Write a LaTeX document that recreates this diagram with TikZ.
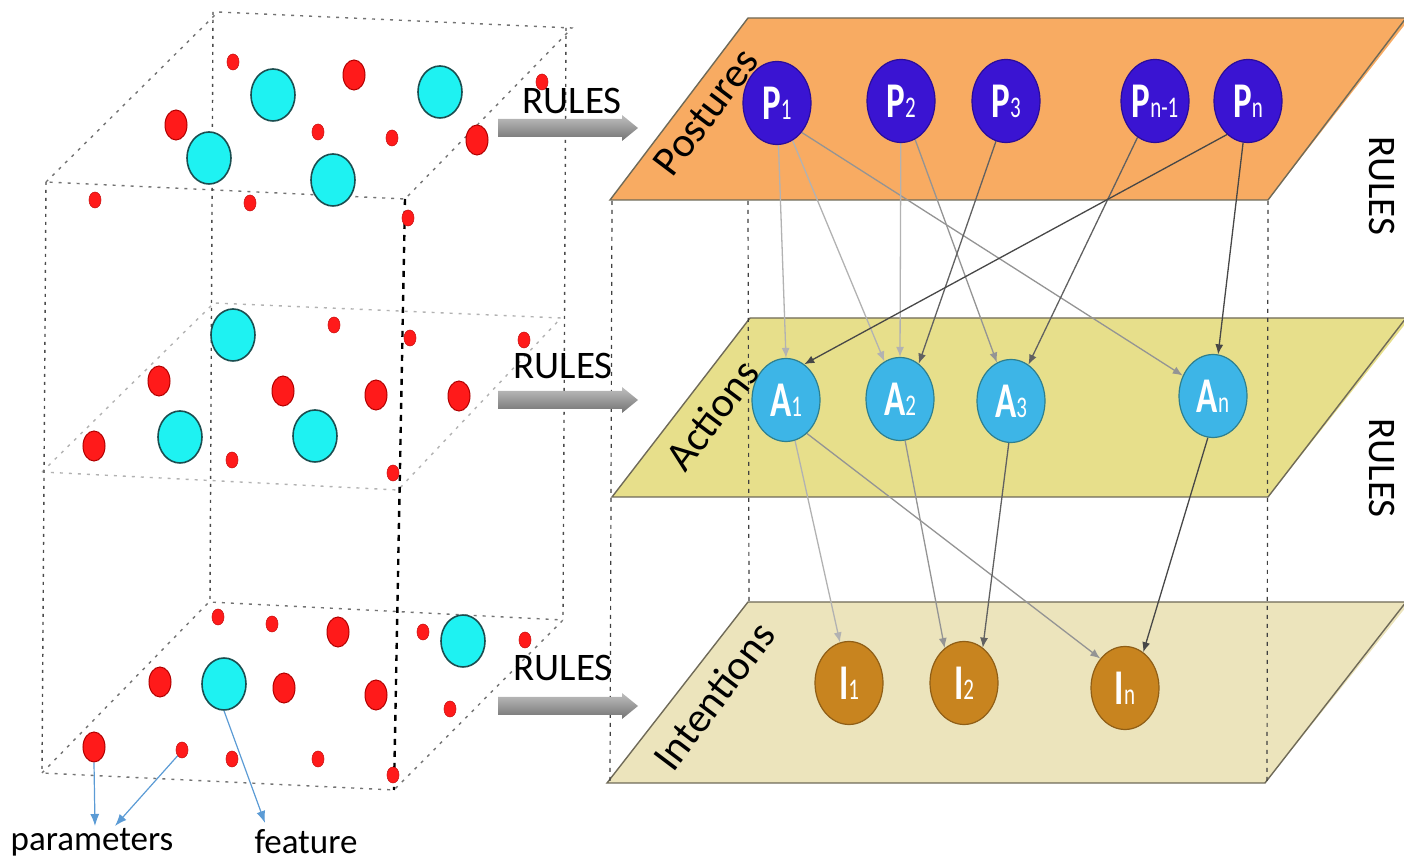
\documentclass[tikz,border=0pt]{standalone}
\usepackage{fontspec}
\setmainfont{Carlito}
\newfontfamily\nodefont[FakeStretch=0.7]{Carlito}
\usetikzlibrary{shapes.geometric,arrows.meta}
\pgfdeclarelayer{planes}
\pgfdeclarelayer{links}
\pgfsetlayers{planes,links,main}

\definecolor{postfill}{HTML}{F8AB62}
\definecolor{actfill}{HTML}{E7DF8B}
\definecolor{intfill}{HTML}{ECE4BC}
\definecolor{planeedge}{HTML}{6F6A58}
\definecolor{pcol}{HTML}{3A14D2}
\definecolor{pborder}{HTML}{2A0C9A}
\definecolor{acol}{HTML}{3DB5E7}
\definecolor{aborder}{HTML}{2E7F8E}
\definecolor{icol}{HTML}{C8841F}
\definecolor{iborder}{HTML}{8F5E16}
\definecolor{dotred}{HTML}{FF1A1A}
\definecolor{dotredb}{HTML}{B00000}
\definecolor{dotcyan}{HTML}{1EF2F2}
\definecolor{dotcyanb}{HTML}{1B4E50}
\definecolor{pointer}{HTML}{5B9BD5}

\newcommand\nsub[1]{{\mdseries\fontsize{15}{15}\selectfont #1}}

\tikzset{
  layernode/.style={ellipse, inner sep=0pt, minimum width=34pt, minimum height=41.5pt,
    line width=0.6pt, text=white, font=\nodefont\bfseries\fontsize{25}{25}\selectfont},
  posture/.style={layernode, fill=pcol, draw=pborder},
  action/.style={layernode, fill=acol, draw=aborder},
  intention/.style={layernode, fill=icol, draw=iborder},
  plane/.style={draw=planeedge, line width=0.7pt},
  guide/.style={black!75, line width=0.6pt, dash pattern=on 2pt off 2.5pt},
  link/.style={line width=0.65pt, -{Latex[length=5pt,width=4pt]}},
  linklight/.style={link, black!30},
  linkmid/.style={link, black!42},
  linkdark/.style={link, black!62},
  linkdeep/.style={link, black!72},
  reddot/.style={ellipse, inner sep=0pt, minimum width=11pt, minimum height=15pt,
    fill=dotred, draw=dotredb, line width=0.5pt},
  redsmall/.style={ellipse, inner sep=0pt, minimum width=6pt, minimum height=8pt,
    fill=dotred, draw=dotred!80!black, line width=0.3pt},
  cyandot/.style={ellipse, inner sep=0pt, minimum width=22pt, minimum height=26pt,
    fill=dotcyan, draw=dotcyanb, line width=0.8pt},
  cubeedge/.style={black!55, line width=0.7pt, dash pattern=on 1.5pt off 3pt},
  cubefaint/.style={black!30, line width=0.7pt, dash pattern=on 1.5pt off 3pt},
  cubepost/.style={black!70, line width=0.7pt, dash pattern=on 1.5pt off 2.5pt},
  cubefront/.style={black, line width=1.2pt, dash pattern=on 3pt off 3pt},
  pointerarrow/.style={pointer, line width=0.6pt, -{Latex[length=6pt,width=4.5pt]}},
  rulestext/.style={font=\fontsize{19.5}{19.5}\selectfont, inner sep=0pt},
  planelabel/.style={font=\fontsize{21}{21}\selectfont, inner sep=0pt, rotate=53},
  caption/.style={font=\fontsize{17.5}{17.5}\selectfont, inner sep=0pt}
}

\begin{document}
\begin{tikzpicture}[x=0.5pt, y=-0.5pt]
\useasboundingbox (0,0) rectangle (1404,860);

% ---------- left: the parameter cube ----------
% three horizontal slabs
\draw[cubeedge] (46,182) -- (218,12) -- (572,28) -- (405,199) -- cycle;
\draw[cubefaint] (42,472) -- (214,303) -- (561,318) -- (398,490) -- cycle;
\draw[cubeedge] (42,773) -- (209,602) -- (563,620) -- (394,790) -- cycle;
% vertical edges of the cube
\draw[cubepost] (46,182) -- (42,773);
\draw[cubepost] (213,12) -- (210,602);
\draw[cubepost] (566,28) -- (563,620);
\draw[cubefront] (405,199) -- (394,790);

% features (cyan) and parameters (red)
\foreach \x/\y [count=\i] in {273/95, 440/92, 209/158, 333/180,
    233/335, 180/437, 315/436, 463/641, 224/684}
  \node[cyandot] (cy\i) at (\x,\y) {};
\foreach \x/\y [count=\i] in {176/125, 354/75, 477/140,
    159/381, 283/391, 376/395, 459/396, 94/446,
    338/632, 160/682, 284/688, 376/695, 94/747}
  \node[reddot] (rd\i) at (\x,\y) {};
\foreach \x/\y [count=\i] in {233/62, 318/132, 392/138, 542/82, 95/200, 250/203, 408/218,
    334/325, 410/338, 524/340, 232/460, 393/473,
    218/617, 272/624, 423/632, 525/640, 450/709, 182/750, 232/759, 318/759, 393/775}
  \node[redsmall] (rs\i) at (\x,\y) {};

% labels under the cube
\node[caption] (params) at (92,842) {parameters};
\node[caption] (feat) at (306,842) {feature};
\coordinate (paramtipA) at (95,826);
\coordinate (paramtipB) at (115,826);
\coordinate (feattip) at (265,823);
\draw[pointerarrow] (rd13.south) -- (paramtipA);
\draw[pointerarrow] (rs18.south west) -- (paramtipB);
\draw[pointerarrow] (cy9.south) -- (feattip);

% ---------- RULES block arrows ----------
\foreach \yy in {128, 400, 706} {
  \shade[top color=black!25, bottom color=black!55]
    (498,{\yy-9}) -- (622,{\yy-9}) -- (622,{\yy-13}) -- (638,\yy)
    -- (622,{\yy+13}) -- (622,{\yy+9}) -- (498,{\yy+9}) -- cycle;
}
\node[rulestext] (rules1) at (572,101) {RULES};
\node[rulestext] (rules2) at (563,366) {RULES};
\node[rulestext] (rules3) at (563,668) {RULES};
\node[rulestext, rotate=-90] (rules4) at (1382,186) {RULES};
\node[rulestext, rotate=-90] (rules5) at (1382,468) {RULES};

% ---------- right: the three layers ----------
\node[posture] (P1) at (777,103) {P\nsub{1}};
\node[posture] (P2) at (901,101) {P\nsub{2}};
\node[posture] (P3) at (1006,101) {P\nsub{3}};
\node[posture] (Pm) at (1155,101) {P\nsub{n-1}};
\node[posture] (Pn) at (1248,101) {P\nsub{n}};

\node[action] (A1) at (786,400) {A\nsub{1}};
\node[action] (A2) at (900,399) {A\nsub{2}};
\node[action] (A3) at (1011,401) {A\nsub{3}};
\node[action] (An) at (1213,396) {A\nsub{n}};

\node[intention] (I1) at (849,683) {I\nsub{1}};
\node[intention] (I2) at (964,683) {I\nsub{2}};
\node[intention] (In) at (1125,688) {I\nsub{n}};

\begin{pgfonlayer}{planes}
  \fill[postfill] (610,200) -- (748,18) -- (1410,18) -- (1268,200) -- cycle;
  \draw[plane] (1410,18) -- (748,18) -- (610,200) -- (1268,200) -- (1406,18);
  \fill[actfill] (612,497) -- (750,318) -- (1410,318) -- (1268,497) -- cycle;
  \draw[plane] (1410,318) -- (750,318) -- (612,497) -- (1268,497) -- (1406,318);
  \fill[intfill] (607,783) -- (748,602) -- (1410,602) -- (1265,783) -- cycle;
  \draw[plane] (1410,602) -- (748,602) -- (607,783) -- (1265,783) -- (1406,602);
\end{pgfonlayer}

\node[planelabel] (lpost) at (706,112) {Postures};
\node[planelabel] (lact) at (712,415) {Actions};
\node[planelabel] (lint) at (714,696) {Intentions};

\begin{pgfonlayer}{links}
  % dashed guides joining the layer corners
  \draw[guide] (612,201) -- (610,783);
  \draw[guide] (748,201) -- (749,602);
  \draw[guide] (1268,201) -- (1267,783);
  % postures -> actions
  \draw[linklight] (P1) -- (A1.90);
  \draw[linklight] (P1) -- (A2);
  \draw[linkmid] (P1.-50) -- (An.146);
  \draw[linklight] (P2) -- (A2.90);
  \draw[linkmid] (P2) -- (A3);
  \draw[linkdark] (P3.-104) -- (A2.62);
  \draw[linkdark] (Pm) -- (A3);
  \draw[linkdeep] (Pn.-122) -- (A1.63);
  \draw[linkdeep] (Pn) -- (An.83);
  % actions -> intentions
  \draw[linklight] (A1) -- (I1);
  \draw[linkmid] (A1.-58) -- (In.130);
  \draw[linkmid] (A2.-83) -- (I2.119);
  \draw[linkdark] (A3.-93) -- (I2.62);
  \draw[linkdeep] (An.-97) -- (In.63);
\end{pgfonlayer}
\end{tikzpicture}
\end{document}
